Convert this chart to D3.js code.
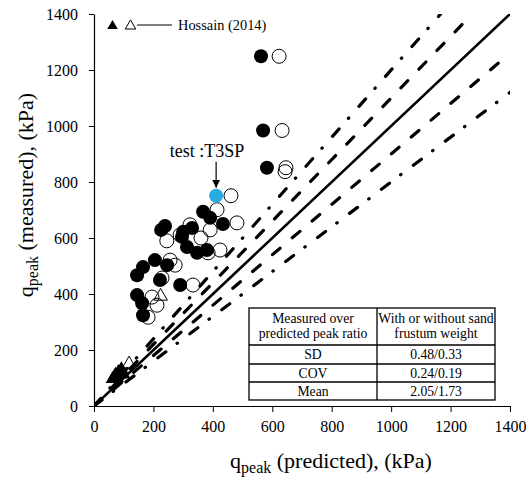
<!DOCTYPE html>
<html>
<head>
<meta charset="utf-8">
<script src="https://cdn.jsdelivr.net/npm/d3@7"></script>
<style>
  html, body { margin: 0; padding: 0; background: #fff; }
  svg { display: block; font-family: "Liberation Serif", "Times New Roman", serif; }
</style>
</head>
<body>
<svg id="chart" width="531" height="487"></svg>
<script>
// Peak capacity: measured vs predicted (kPa)
const xTicks = [0, 200, 400, 600, 800, 1000, 1200, 1400];
const yTicks = [0, 200, 400, 600, 800, 1000, 1200, 1400];

// Reference lines: measured = ratio * predicted
const ratios = [1.0, 1.1, 0.9, 1.2, 0.8];

// Predicted / measured with sand frustum weight (filled)
const withPred = [562, 569, 582, 367, 391, 434, 239, 226, 300, 296, 330, 313, 347, 380, 205, 165, 145, 246, 222, 290, 145, 162, 165];
const withMeas = [1249, 984, 851, 694, 672, 650, 643, 629, 622, 604, 636, 568, 547, 557, 521, 496, 467, 503, 450, 432, 396, 367, 324];

// Predicted / measured without sand frustum weight (open)
const withoutPred = [623, 633, 646, 643, 461, 414, 481, 323, 290, 391, 424, 384, 256, 273, 229, 333, 195, 212, 182, 360, 245];
const withoutMeas = [1249, 984, 851, 837, 751, 701, 654, 647, 611, 629, 557, 547, 521, 503, 457, 432, 389, 360, 317, 600, 590];

// Highlighted test T3SP
const testPred = [411];
const testMeas = [751];

// Hossain (2014)
const hossainFilledPred = [62, 72, 82, 92, 100, 78];
const hossainFilledMeas = [96, 112, 122, 132, 112, 100];
const hossainOpenPred = [118, 224];
const hossainOpenMeas = [150, 392];

// Statistics table
const tableHeader = [["Measured over", "predicted peak ratio"], ["With or without sand", "frustum weight"]];
const tableRows = ["SD", "COV", "Mean"];
const tableValues = ["0.48/0.33", "0.24/0.19", "2.05/1.73"];

const svg = d3.select("#chart");
const x = d3.scaleLinear().domain([0, 1400]).range([94, 510]);
const y = d3.scaleLinear().domain([0, 1400]).range([406, 14]);

// Axes
const xAxis = svg.append("g").attr("transform", `translate(0,${y(0)})`)
  .call(d3.axisBottom(x).tickValues(xTicks).tickSize(6).tickSizeOuter(0).tickFormat(d3.format("d")));
const yAxis = svg.append("g").attr("transform", `translate(${x(0)},0)`)
  .call(d3.axisLeft(y).tickValues(yTicks).tickSize(5).tickSizeOuter(0).tickFormat(d3.format("d")));
[xAxis, yAxis].forEach(g => {
  g.attr("font-family", "Liberation Serif");
  g.select(".domain").attr("stroke", "#000").attr("stroke-width", 1.2);
  g.selectAll(".tick line").attr("stroke", "#000").attr("stroke-width", 1);
  g.selectAll(".tick text").attr("fill", "#000").style("font-size", "16px");
});
xAxis.selectAll(".tick text").attr("dy", "0.71em").attr("y", 15);
yAxis.selectAll(".tick text").attr("x", -16);

// Clip lines to plotting area
svg.append("clipPath").attr("id", "plotClip").append("rect")
  .attr("x", x(0)).attr("y", y(1400)).attr("width", x(1400) - x(0)).attr("height", y(0) - y(1400));

const dashStyles = [null, "10,16", "10,16", "10,14,0.5,15.5", "10,14,0.5,15.5"];
const lineG = svg.append("g").attr("clip-path", "url(#plotClip)");
ratios.forEach((k, i) => {
  const xEnd = Math.min(1400, 1400 / k);
  lineG.append("line")
    .attr("x1", x(0)).attr("y1", y(0))
    .attr("x2", x(xEnd)).attr("y2", y(k * xEnd))
    .attr("stroke", "#000")
    .attr("stroke-width", i === 0 ? 2.6 : 3.2)
    .attr("stroke-linecap", i === 0 ? "butt" : "round")
    .attr("stroke-dasharray", dashStyles[i]);
});

// Open circles (without frustum weight)
svg.append("g").selectAll("circle").data(d3.range(withoutPred.length)).join("circle")
  .attr("cx", i => x(withoutPred[i])).attr("cy", i => y(withoutMeas[i])).attr("r", 7)
  .attr("fill", "none").attr("stroke", "#000").attr("stroke-width", 1);

// Filled circles (with frustum weight)
svg.append("g").selectAll("circle").data(d3.range(withPred.length)).join("circle")
  .attr("cx", i => x(withPred[i])).attr("cy", i => y(withMeas[i])).attr("r", 7)
  .attr("fill", "#000");

// Test point
svg.append("g").selectAll("circle").data(d3.range(testPred.length)).join("circle")
  .attr("cx", i => x(testPred[i])).attr("cy", i => y(testMeas[i])).attr("r", 7)
  .attr("fill", "#29abe2");

// Hossain (2014) triangles
const tri = d3.symbol().type(d3.symbolTriangle).size(80);
svg.append("g").selectAll("path").data(d3.range(hossainFilledPred.length)).join("path")
  .attr("d", tri).attr("transform", i => `translate(${x(hossainFilledPred[i])},${y(hossainFilledMeas[i])})`)
  .attr("fill", "#000");
svg.append("g").selectAll("path").data(d3.range(hossainOpenPred.length)).join("path")
  .attr("d", tri).attr("transform", i => `translate(${x(hossainOpenPred[i])},${y(hossainOpenMeas[i])})`)
  .attr("fill", "none").attr("stroke", "#000").attr("stroke-width", 1);

// Arrow to the test point
svg.append("defs").append("marker").attr("id", "arrowHead")
  .attr("viewBox", "0 0 10 10").attr("refX", 10).attr("refY", 5)
  .attr("markerWidth", 8).attr("markerHeight", 8).attr("markerUnits", "userSpaceOnUse")
  .attr("orient", "auto")
  .append("path").attr("d", "M0,0 L10,5 L0,10 Z").attr("fill", "#000");
svg.append("line")
  .attr("x1", x(testPred[0])).attr("y1", y(testMeas[0]) - 34)
  .attr("x2", x(testPred[0])).attr("y2", y(testMeas[0]) - 8)
  .attr("stroke", "#000").attr("stroke-width", 1.2).attr("marker-end", "url(#arrowHead)");
svg.append("text").attr("x", x(testPred[0]) - 9).attr("y", y(testMeas[0]) - 39)
  .attr("text-anchor", "middle").style("font-size", "18px").text("test :T3SP");

// Legend
const legSym = d3.symbol().type(d3.symbolTriangle).size(48);
const legG = svg.append("g");
legG.append("path").attr("d", legSym())
  .attr("transform", "translate(112.5,26)").attr("fill", "#000");
legG.append("path").attr("d", legSym())
  .attr("transform", "translate(130.5,26)").attr("fill", "none").attr("stroke", "#000").attr("stroke-width", 1);
legG.append("line").attr("x1", 137).attr("x2", 172).attr("y1", 25).attr("y2", 25)
  .attr("stroke", "#000").attr("stroke-width", 1);
legG.append("text").attr("x", 178).attr("y", 30).style("font-size", "14.4px").text("Hossain (2014)");

// Statistics table
const tb = { left: 249, mid: 377, right: 495, rows: [308, 345, 364, 382, 400] };
const tG = svg.append("g");
tG.append("rect").attr("x", tb.left).attr("y", tb.rows[0])
  .attr("width", tb.right - tb.left).attr("height", tb.rows[4] - tb.rows[0])
  .attr("fill", "#fff").attr("stroke", "#000").attr("stroke-width", 1.3);
tb.rows.slice(1, 4).forEach(r => tG.append("line").attr("x1", tb.left).attr("x2", tb.right)
  .attr("y1", r).attr("y2", r).attr("stroke", "#000").attr("stroke-width", 1.3));
tG.append("line").attr("x1", tb.mid).attr("x2", tb.mid).attr("y1", tb.rows[0]).attr("y2", tb.rows[4])
  .attr("stroke", "#000").attr("stroke-width", 1.3);
const cols = [(tb.left + tb.mid) / 2, (tb.mid + tb.right) / 2];
tableHeader.forEach((lines, c) => lines.forEach((t, j) =>
  tG.append("text").attr("x", cols[c]).attr("y", tb.rows[0] + 15 + j * 15)
    .attr("text-anchor", "middle").style("font-size", "13.7px").text(t)));
tableRows.forEach((t, r) => {
  const cy = (tb.rows[r + 1] + tb.rows[r + 2]) / 2 + 4.5;
  tG.append("text").attr("x", cols[0]).attr("y", cy).attr("text-anchor", "middle").style("font-size", "13.7px").text(t);
  tG.append("text").attr("x", cols[1]).attr("y", cy).attr("text-anchor", "middle").style("font-size", "13.7px").text(tableValues[r]);
});

// Axis titles
const xt = svg.append("text").attr("x", 331).attr("y", 468).attr("text-anchor", "middle").style("font-size", "22px");
xt.append("tspan").text("q");
xt.append("tspan").attr("dy", 5).style("font-size", "16px").text("peak");
xt.append("tspan").attr("dy", -5).text(" (predicted), (kPa)");

const yt = svg.append("text").attr("transform", "translate(33,195) rotate(-90)")
  .attr("text-anchor", "middle").style("font-size", "22px");
yt.append("tspan").text("q");
yt.append("tspan").attr("dy", 5).style("font-size", "16px").text("peak");
yt.append("tspan").attr("dy", -5).text(" (measured), (kPa)");

// Panel label
svg.append("text").attr("x", 305).attr("y", 499).attr("text-anchor", "middle").style("font-size", "17px").text("(d)");
</script>
</body>
</html>
